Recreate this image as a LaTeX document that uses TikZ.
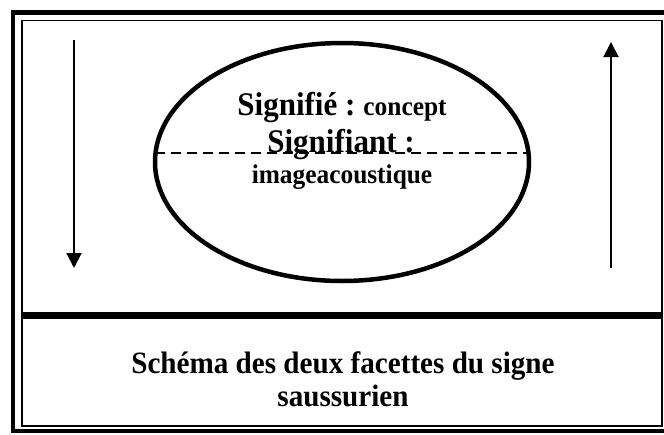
\documentclass[tikz,border=0pt]{standalone}
\usepackage{fontspec}
\setmainfont[FakeStretch=0.94]{Liberation Serif}
\usetikzlibrary{shapes.geometric,arrows.meta}
\tikzset{
  bigtxt/.style={font=\bfseries\fontsize{33}{35}\selectfont,inner sep=0pt},
  smalltxt/.style={font=\bfseries\fontsize{27}{29}\selectfont,inner sep=0pt},
  captxt/.style={font=\bfseries\fontsize{31}{33}\selectfont,inner sep=0pt},
  vtip/.style={-{Triangle[length=15pt,width=15pt]},line width=2pt}
}
\begin{document}
\begin{tikzpicture}[x=1pt,y=-1pt]
  \useasboundingbox (0,0) rectangle (664,434);
  % double frame and divider
  \draw[line width=4.5pt] (13,12.5) rectangle (671,431);
  \draw[line width=1.5pt] (22,20.5) rectangle (662,426);
  \draw[line width=7pt] (22,315.5) -- (662,315.5);
  % the sign
  \node[draw,ellipse,line width=4.5pt,minimum width=374pt,minimum height=238pt] (sign) at (342,162) {};
  \coordinate (dl) at (155,153);
  \coordinate (dr) at (529,153);
  \draw[dashed,dash pattern=on 10pt off 6pt,line width=2pt] (dl) -- (dr);
  \node[inner sep=0pt,anchor=base] (sig) at (342,115) {\textbf{\fontsize{33}{35}\selectfont Signifié :}\hspace{8pt}\textbf{\fontsize{27}{29}\selectfont concept}};
  \node[bigtxt,anchor=base] (san) at (341,152) {Signifiant :};
  \node[smalltxt,anchor=base] (img) at (342,183) {imageacoustique};
  % arrows
  \coordinate (la) at (74,40);
  \coordinate (lb) at (74,268);
  \coordinate (ra) at (611,268);
  \coordinate (rb) at (611,42);
  \draw[vtip] (la) -- (lb);
  \draw[vtip] (ra) -- (rb);
  % caption
  \node[captxt,anchor=base] (cap1) at (343,373) {Schéma des deux facettes du signe};
  \node[captxt,anchor=base] (cap2) at (343,406) {saussurien};
\end{tikzpicture}
\end{document}
